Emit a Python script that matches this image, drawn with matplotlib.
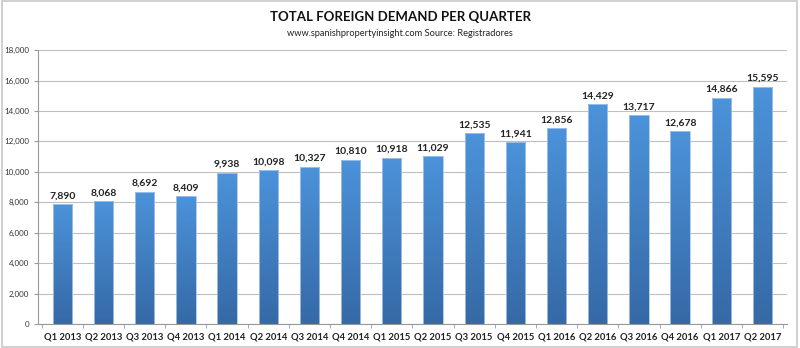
import numpy as np
import matplotlib
matplotlib.use("Agg")
from matplotlib import pyplot as plt
from matplotlib.patches import Rectangle

quarters = ["Q1 2013", "Q2 2013", "Q3 2013", "Q4 2013", "Q1 2014", "Q2 2014", "Q3 2014",
            "Q4 2014", "Q1 2015", "Q2 2015", "Q3 2015", "Q4 2015", "Q1 2016", "Q2 2016",
            "Q3 2016", "Q4 2016", "Q1 2017", "Q2 2017"]
demand = [7890, 8068, 8692, 8409, 9938, 10098, 10327, 10810, 10918, 11029, 12535,
          11941, 12856, 14429, 13717, 12678, 14866, 15595]

plt.rcParams['font.family'] = ['Lato', 'DejaVu Sans']

fig = plt.figure(figsize=(8, 3.48), dpi=100)
fig.patches.append(Rectangle((0.002, 0.003), 0.994, 0.994, transform=fig.transFigure,
                             fill=False, edgecolor="#c8c8c8", linewidth=1.2))

ax = fig.add_axes([0.047, 0.069, 0.937, 0.787])
x = np.arange(len(quarters))
bars = ax.bar(x, demand, width=0.47, color="none", edgecolor="#a9c6e8", linewidth=0.6, zorder=3)

# vertical gradient, lighter at the top
grad = np.linspace(0, 1, 256).reshape(-1, 1)
cmap = matplotlib.colors.LinearSegmentedColormap.from_list("b", ["#3669a6", "#4b93da"])
for b in bars:
    bx, by = b.get_x(), b.get_y()
    w, h = b.get_width(), b.get_height()
    im = ax.imshow(grad, cmap=cmap, origin="lower", aspect="auto",
                   extent=[bx, bx + w, by, by + h], zorder=2)
    im.set_clip_path(b)

for xi, v in zip(x, demand):
    ax.text(xi, v + 250, f"{v:,}", ha="center", va="bottom", fontsize=7.5,
            fontweight="bold", color="#222222")

ax.set_xlim(-0.6, len(quarters) - 0.4)
ax.set_ylim(0, 18000)
ax.set_yticks(range(0, 18001, 2000))
ax.set_yticklabels([f"{t:,}" for t in range(0, 18001, 2000)], fontsize=5.8, color="#333333")
ax.yaxis.grid(True, color="#bfbfbf", linewidth=0.8, zorder=0)
ax.set_axisbelow(True)

ax.set_xticks(x)
ax.set_xticklabels(quarters, fontsize=6.8, fontweight="bold", color="#222222")
ax.tick_params(axis="x", length=0, pad=6)
ax.set_xticks(np.arange(-0.5, len(quarters), 1), minor=True)
ax.tick_params(axis="x", which="minor", length=3, color="#999999")
ax.tick_params(axis="y", length=3, color="#999999", pad=3)

for s in ["top", "right"]:
    ax.spines[s].set_visible(False)
ax.spines["left"].set_color("#999999")
ax.spines["bottom"].set_color("#999999")
ax.spines["left"].set_linewidth(0.8)
ax.spines["bottom"].set_linewidth(0.8)

fig.text(0.5, 0.95, "TOTAL FOREIGN DEMAND PER QUARTER", ha="center", va="center",
         fontsize=9.5, fontweight="bold", color="#111111")
fig.text(0.5, 0.905, "www.spanishpropertyinsight.com Source: Registradores", ha="center",
         va="center", fontsize=6.7, color="#222222")

fig.savefig("out.png", dpi=100)
